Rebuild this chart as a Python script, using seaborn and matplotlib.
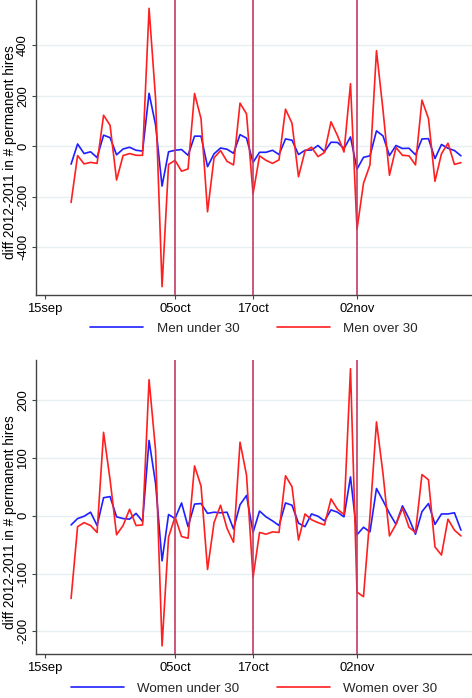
import numpy as np
import pandas as pd
import matplotlib
matplotlib.use("Agg")
import matplotlib.pyplot as plt
import seaborn as sns

start_date = "2012-09-19"
n_days = 61

men_under30 = [-71, 9, -29, -22, -45, 44, 34, -34, -11, -4, -16, -19, 210, 85, -158, -22,
               -16, -13, -36, 40, 40, -81, -30, -7, -12, -28, 46, 32, -64, -24, -24, -16,
               -33, 29, 24, -33, -16, -15, 3, -21, 16, 15, -9, 37, -91, -44, -38, 61, 41,
               -37, 3, -9, -8, -34, 29, 30, -49, 7, -8, -17, -38]
men_over30 = [-223, -37, -70, -64, -68, 123, 83, -134, -37, -29, -36, -36, 547, 190, -557,
              -72, -56, -99, -90, 209, 109, -260, -46, -17, -60, -74, 171, 128, -189, -38,
              -56, -68, -54, 147, 91, -121, -19, -4, -41, -25, 97, 42, -23, 248, -330, -147,
              -74, 379, 144, -115, -5, -36, -38, -74, 183, 110, -139, -30, 12, -72, -65]
women_under30 = [-16, -5, -1, 6, -17, 31, 33, -2, -5, -6, 4, -10, 130, 56, -78, 2, -5, 22,
                 -19, 20, 21, 4, 6, 5, 6, -23, 19, 35, -29, 8, -2, -9, -17, 22, 18, -13, -19,
                 3, -1, -9, 10, 6, -2, 67, -33, -20, -28, 47, 26, 4, -15, 17, -5, -32, 7, 21,
                 -15, 3, 3, 5, -25]
women_over30 = [-143, -19, -12, -17, -29, 144, 62, -33, -17, 11, -17, -16, 235, 113, -225,
                -37, -2, -36, -39, 86, 51, -93, -12, 18, -22, -46, 127, 70, -107, -29, -32,
                -28, -29, 69, 50, -42, 3, -7, -12, -16, 29, 11, 2, 254, -132, -140, 0, 162,
                73, -35, -15, 13, -20, -29, 71, 62, -54, -68, -6, -25, -35]

tick_dates = ["2012-09-15", "2012-10-05", "2012-10-17", "2012-11-02"]
tick_labels = ["15sep", "05oct", "17oct", "02nov"]
vline_dates = ["2012-10-05", "2012-10-17", "2012-11-02"]

top_yticks = [-400, -200, 0, 200, 400]
bottom_yticks = [-200, -100, 0, 100, 200]
ylabel = "diff 2012-2011 in # permanent hires"

sns.set_theme(style="white")
plt.rcParams["font.family"] = ["Liberation Sans", "DejaVu Sans"]

dates = pd.date_range(start_date, periods=n_days, freq="D")

W, H = 472, 698
fig = plt.figure(figsize=(W / 100, H / 100), dpi=100)
fig.patch.set_facecolor("white")

def make_panel(rect, s1, s2, names, yticks, ylim, legend_y, label_y):
    ax = fig.add_axes(rect)
    df = pd.DataFrame({
        "date": list(dates) * 2,
        "value": list(s1) + list(s2),
        "series": [names[0]] * n_days + [names[1]] * n_days,
    })
    sns.lineplot(data=df, x="date", y="value", hue="series",
                 palette={names[0]: "#1f1fff", names[1]: "#ff1f1f"},
                 linewidth=1.2, ax=ax)
    for d in vline_dates:
        ax.axvline(pd.Timestamp(d), color="#c43c62", linewidth=1.2, zorder=3)
    ax.set_xlim(pd.Timestamp("2012-09-15") - pd.Timedelta(days=1.4),
                pd.Timestamp("2012-09-15") + pd.Timedelta(days=65.7))
    ax.set_ylim(*ylim)
    ax.set_xticks([pd.Timestamp(d) for d in tick_dates])
    ax.set_xticklabels(tick_labels)
    ax.set_yticks(yticks)
    ax.set_yticklabels([str(v) for v in yticks], rotation=90, va="center")
    ax.yaxis.grid(True, color="#e6eff1", linewidth=1.0)
    ax.set_axisbelow(True)
    ax.set_xlabel("")
    ax.set_ylabel(ylabel, fontsize=9.8, color="black")
    ax.yaxis.set_label_coords(-0.044, label_y)
    for s in ["top", "right"]:
        ax.spines[s].set_visible(False)
    for s in ["left", "bottom"]:
        ax.spines[s].set_color("#444444")
        ax.spines[s].set_linewidth(1.0)
    ax.tick_params(axis="both", which="major", length=3, width=0.8,
                   color="#444444", labelsize=9.4, labelcolor="black",
                   direction="out", bottom=True, left=True, pad=2)
    ax.tick_params(axis="x", pad=3)
    sns.move_legend(ax, "center", bbox_to_anchor=(0.5, legend_y), ncol=2,
                    frameon=False, title=None, fontsize=9.6, handlelength=4.0,
                    handletextpad=1.0, columnspacing=2.8)
    return ax

ax1 = make_panel([36 / W, 1 - 295 / H, 436 / W, 295 / H],
                 men_under30, men_over30, ["Men under 30", "Men over 30"],
                 top_yticks, (-590, 580), -0.114, 0.485)
ax2 = make_panel([36 / W, 1 - 654 / H, 436 / W, 294 / H],
                 women_under30, women_over30, ["Women under 30", "Women over 30"],
                 bottom_yticks, (-239, 269), -0.118, 0.449)

fig.savefig("out.png", dpi=100, facecolor="white")
